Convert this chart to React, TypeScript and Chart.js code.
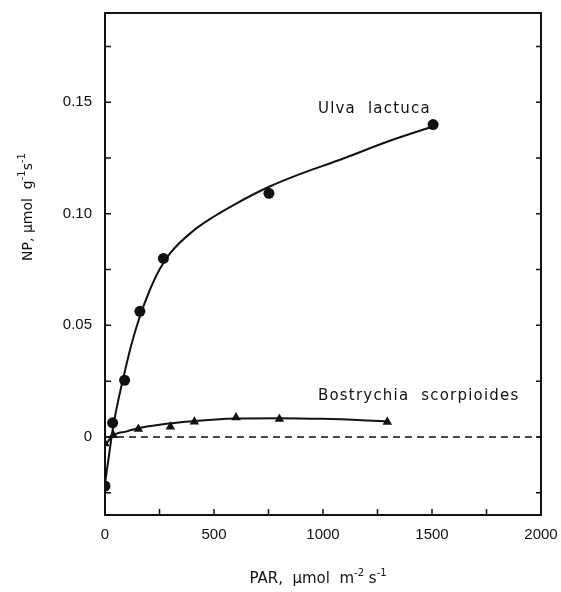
import { useEffect, useRef } from "react";
import { Chart, registerables } from "chart.js";

Chart.register(...registerables);

// Measured points (PAR, µmol m-2 s-1  vs  NP, µmol g-1 s-1)
const ULVA_PAR = [0, 35, 90, 160, 268, 752, 1505];
const ULVA_NP = [-0.022, 0.0063, 0.0254, 0.0563, 0.08, 0.1092, 0.14];

const BOS_PAR = [0, 38, 153, 300, 410, 601, 800, 1295];
const BOS_NP = [-0.003, 0.0008, 0.0036, 0.0046, 0.0068, 0.0087, 0.008, 0.0067];

// Fitted curves
const ULVA_FIT_PAR = [0, 20, 40, 60, 90, 120, 160, 200, 250, 300, 400, 500, 600, 750, 900, 1000, 1100, 1300, 1500];
const ULVA_FIT_NP = [-0.021, -0.007, 0.006, 0.016, 0.029, 0.041, 0.054, 0.0645, 0.075, 0.0825, 0.092, 0.0988, 0.1045, 0.112, 0.118, 0.1215, 0.125, 0.1325, 0.139];

const BOS_FIT_PAR = [0, 35, 100, 150, 250, 400, 600, 800, 1000, 1300];
const BOS_FIT_NP = [-0.004, 0.0005, 0.0025, 0.0039, 0.0055, 0.007, 0.0082, 0.0084, 0.0081, 0.007];

const ZERO_PAR = [0, 2000];
const ZERO_NP = [0, 0];

const X_TICKS = [0, 250, 500, 750, 1000, 1250, 1500, 1750, 2000];
const X_TICK_LABELS = ["0", "", "500", "", "1000", "", "1500", "", "2000"];
const Y_TICKS = [-0.025, 0, 0.025, 0.05, 0.075, 0.1, 0.125, 0.15, 0.175];
const Y_TICK_LABELS = ["", "0", "", "0.05", "", "0.10", "", "0.15", ""];

const SERIES_NAMES = ["Ulva  lactuca", "Bostrychia  scorpioides"];

const toXY = (xs: number[], ys: number[]) => xs.map((x, i) => ({ x, y: ys[i] }));

const labelFor = (ticks: number[], labels: string[]) => (v: any) => {
  const i = ticks.findIndex((t) => Math.abs(t - Number(v)) < 1e-9);
  return i >= 0 ? labels[i] : "";
};

const INK = "#111";

export default function App() {
  const ref = useRef<HTMLCanvasElement | null>(null);

  useEffect(() => {
    const canvas = ref.current;
    if (!canvas) return;

    const framePlugin = {
      id: "frame",
      afterDraw(chart: any) {
        const { ctx, chartArea: a, scales } = chart;
        const xs = scales.x;
        const ys = scales.y;
        ctx.save();
        ctx.strokeStyle = INK;
        ctx.lineWidth = 2;
        ctx.strokeRect(a.left, a.top, a.right - a.left, a.bottom - a.top);
        ctx.lineWidth = 1.5;
        ctx.beginPath();
        for (const t of X_TICKS) {
          const px = xs.getPixelForValue(t);
          ctx.moveTo(px, a.bottom);
          ctx.lineTo(px, a.bottom - 6);
        }
        for (const t of Y_TICKS) {
          const py = ys.getPixelForValue(t);
          ctx.moveTo(a.left, py);
          ctx.lineTo(a.left + 6, py);
          ctx.moveTo(a.right, py);
          ctx.lineTo(a.right - 5, py);
        }
        ctx.stroke();

        // series labels
        ctx.fillStyle = INK;
        ctx.font = "15px 'DejaVu Sans'";
        (ctx as any).letterSpacing = "1.2px";
        ctx.textAlign = "left";
        ctx.textBaseline = "alphabetic";
        ctx.fillText(SERIES_NAMES[0], xs.getPixelForValue(977), ys.getPixelForValue(0.1453));
        ctx.fillText(SERIES_NAMES[1], xs.getPixelForValue(977), ys.getPixelForValue(0.0164));
        (ctx as any).letterSpacing = "0px";

        // axis titles with superscripts
        const drawParts = (parts: [string, boolean][], cx: number, base: number, size: number) => {
          const big = `${size}px 'DejaVu Sans'`;
          const small = `${Math.round(size * 0.68)}px 'DejaVu Sans'`;
          let total = 0;
          for (const [s, sup] of parts) {
            ctx.font = sup ? small : big;
            total += ctx.measureText(s).width;
          }
          let x = cx - total / 2;
          for (const [s, sup] of parts) {
            ctx.font = sup ? small : big;
            ctx.fillText(s, x, sup ? base - 7 : base);
            x += ctx.measureText(s).width;
          }
        };
        ctx.textAlign = "left";
        drawParts(
          [["PAR,  µmol  m", false], ["-2", true], [" s", false], ["-1", true]],
          (a.left + a.right) / 2 - 5,
          583,
          15
        );
        ctx.save();
        ctx.translate(32, 207);
        ctx.rotate(-Math.PI / 2);
        drawParts(
          [["NP, µmol  g", false], ["-1", true], ["s", false], ["-1", true]],
          0,
          0,
          14
        );
        ctx.restore();
        ctx.restore();
      },
    };

    const chart = new Chart(canvas, {
      type: "scatter",
      data: {
        datasets: [
          {
            label: "zero",
            data: toXY(ZERO_PAR, ZERO_NP),
            showLine: true,
            borderColor: INK,
            borderWidth: 1.5,
            borderDash: [7, 5],
            pointRadius: 0,
          },
          {
            label: "Ulva fit",
            data: toXY(ULVA_FIT_PAR, ULVA_FIT_NP),
            showLine: true,
            borderColor: INK,
            borderWidth: 2,
            pointRadius: 0,
            cubicInterpolationMode: "monotone",
          },
          {
            label: "Bostrychia fit",
            data: toXY(BOS_FIT_PAR, BOS_FIT_NP),
            showLine: true,
            borderColor: INK,
            borderWidth: 2,
            pointRadius: 0,
            cubicInterpolationMode: "monotone",
          },
          {
            label: SERIES_NAMES[0],
            data: toXY(ULVA_PAR, ULVA_NP),
            pointStyle: "circle",
            pointRadius: 5.5,
            backgroundColor: INK,
            borderColor: INK,
            borderWidth: 0,
          },
          {
            label: SERIES_NAMES[1],
            data: toXY(BOS_PAR, BOS_NP),
            pointStyle: "triangle",
            pointRadius: 5.5,
            backgroundColor: INK,
            borderColor: INK,
            borderWidth: 0,
          },
        ],
      },
      options: {
        animation: false,
        responsive: false,
        maintainAspectRatio: false,
        layout: { padding: { top: 13, right: 20, left: 0, bottom: 0 } },
        plugins: {
          legend: { display: false },
          tooltip: { enabled: false },
          title: { display: false },
        },
        scales: {
          x: {
            type: "linear",
            min: 0,
            max: 2000,
            afterBuildTicks: (s: any) => {
              s.ticks = X_TICKS.map((value) => ({ value }));
            },
            afterFit: (s: any) => {
              s.height = 77;
              s.paddingLeft = 0;
              s.paddingRight = 0;
            },
            ticks: {
              callback: labelFor(X_TICKS, X_TICK_LABELS),
              font: { family: "'Liberation Sans'", size: 15 },
              color: INK,
              padding: 11,
              maxRotation: 0,
              autoSkip: false,
            },
            grid: { display: false, drawTicks: false },
            border: { display: false },
          },
          y: {
            type: "linear",
            min: -0.035,
            max: 0.19,
            afterBuildTicks: (s: any) => {
              s.ticks = Y_TICKS.map((value) => ({ value }));
            },
            afterFit: (s: any) => {
              s.width = 105;
              s.paddingTop = 0;
              s.paddingBottom = 0;
            },
            ticks: {
              callback: labelFor(Y_TICKS, Y_TICK_LABELS),
              font: { family: "'Liberation Sans'", size: 15 },
              color: INK,
              padding: 13,
              autoSkip: false,
            },
            grid: { display: false, drawTicks: false },
            border: { display: false },
          },
        },
      },
      plugins: [framePlugin],
    } as any);

    return () => chart.destroy();
  }, []);

  return (
    <div style={{ position: "fixed", left: 0, top: 0, width: 561, height: 592, background: "#fff" }}>
      <canvas ref={ref} width={561} height={592} style={{ display: "block" }} />
    </div>
  );
}
